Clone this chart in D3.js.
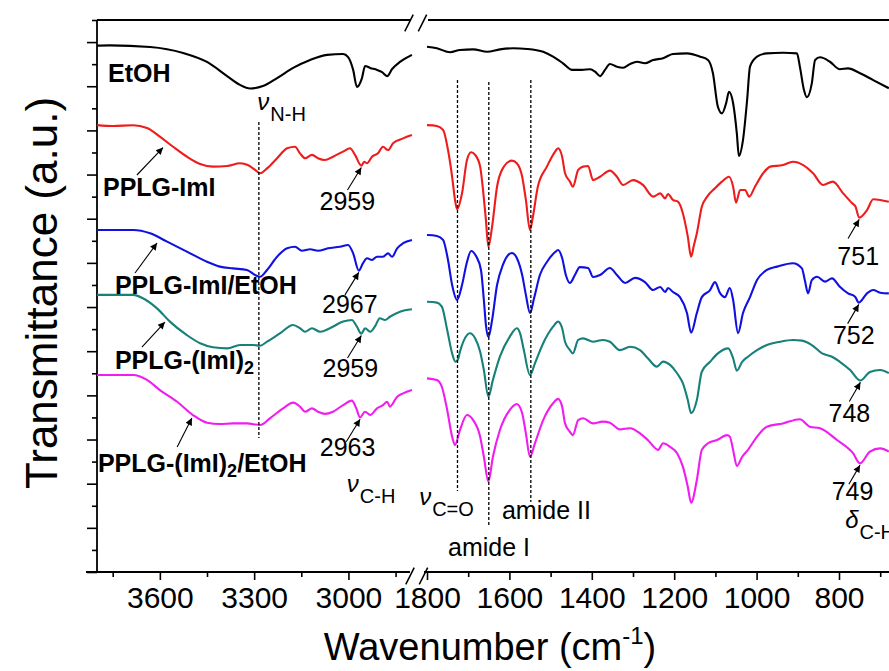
<!DOCTYPE html>
<html>
<head>
<meta charset="utf-8">
<script src="https://cdn.jsdelivr.net/npm/d3@7"></script>
<style>
  html, body { margin: 0; padding: 0; background: #fff; }
  svg { display: block; }
  text { font-family: Arial, "Liberation Sans", sans-serif; fill: #000; }
</style>
</head>
<body>
<svg id="chart" width="889" height="671"></svg>
<script>
// FTIR spectra, broken wavenumber axis (3800–2800 | 1800–650 cm-1).
// Each spectrum: [wavenumber, stacked transmittance (a.u.)]

const seriesNames = ["EtOH", "PPLG-ImI", "PPLG-ImI/EtOH", "PPLG-(ImI)2", "PPLG-(ImI)2/EtOH"];
const seriesColors = ["#000000", "#ee1c1c", "#1010e0", "#168079", "#f01cf0"];

const etoh = [
  [3800,23.84],[3759,23.85],[3631,23.78],[3526,23.51],[3450,23.10],[3386,22.46],[3345,22.06],[3313,21.90],
  [3272,22.01],[3227,22.37],[3176,22.83],[3122,23.19],[3068,23.42],[3017,23.46],[3001,23.32],[2985,22.74],
  [2973,21.97],[2957,22.37],[2947,22.92],[2931,22.83],[2909,22.74],[2893,22.64],[2877,22.46],[2861,22.78],
  [2836,23.10],[2798,23.42],
  [1800,23.79],[1776,23.72],[1744,23.54],[1720,23.64],[1688,23.67],[1654,23.56],[1623,23.67],[1591,23.72],
  [1557,23.69],[1518,23.56],[1494,23.34],[1470,23.04],[1448,22.74],[1424,22.74],[1404,22.77],[1392,22.66],
  [1380,22.46],[1368,22.74],[1356,23.01],[1339,22.88],[1324,22.84],[1307,23.01],[1290,23.11],[1271,23.04],
  [1251,23.19],[1227,23.27],[1203,23.46],[1169,23.49],[1137,23.34],[1118,23.19],[1106,22.59],[1094,21.07],
  [1084,20.77],[1074,21.23],[1067,21.75],[1057,21.23],[1048,19.87],[1043,18.84],[1033,19.57],[1023,21.38],
  [1016,22.89],[999,23.34],[975,23.49],[936,23.52],[902,23.49],[895,22.89],[885,21.83],[878,21.50],
  [866,22.13],[858,23.19],[846,23.31],[822,23.11],[798,22.77],[778,22.81],[749,22.59],[717,22.28],[679,21.91]
];

const pplgImI = [
  [3800,20.24],[3749,20.20],[3685,20.23],[3641,20.11],[3600,19.72],[3558,19.26],[3514,18.81],[3472,18.48],
  [3431,18.36],[3386,18.39],[3345,18.51],[3320,18.43],[3297,18.21],[3281,18.06],[3259,18.28],[3227,18.74],
  [3195,19.19],[3170,19.26],[3154,18.96],[3138,18.74],[3116,18.89],[3097,18.74],[3075,18.66],[3049,18.81],
  [3017,19.04],[2995,19.19],[2979,18.89],[2959,18.40],[2950,18.58],[2941,18.51],[2925,18.81],[2906,18.96],
  [2890,19.26],[2874,19.11],[2858,19.42],[2826,19.64],[2798,19.79],
  [1800,20.24],[1776,20.20],[1761,20.02],[1749,19.11],[1739,17.90],[1732,16.85],[1727,16.43],[1715,17.15],
  [1703,18.66],[1693,19.01],[1683,18.89],[1671,18.36],[1664,17.30],[1657,15.94],[1651,14.73],[1642,15.64],
  [1630,17.45],[1616,18.28],[1594,18.63],[1582,18.51],[1569,17.90],[1560,16.85],[1550,15.49],[1543,16.09],
  [1531,17.45],[1509,18.36],[1489,19.04],[1482,19.19],[1472,18.81],[1465,18.06],[1453,17.68],[1446,17.45],
  [1433,18.21],[1421,18.36],[1409,18.39],[1397,17.75],[1380,17.90],[1356,18.18],[1339,17.90],[1324,17.53],
  [1300,17.75],[1276,17.53],[1251,17.00],[1234,17.15],[1222,16.92],[1215,17.12],[1203,16.85],[1191,16.77],
  [1179,16.25],[1167,15.19],[1159,14.28],[1152,14.81],[1145,15.34],[1133,16.54],[1120,17.00],[1101,17.38],
  [1084,17.68],[1067,17.90],[1057,17.45],[1050,16.73],[1040,17.30],[1028,17.30],[1018,17.00],[1004,17.45],
  [984,18.06],[967,18.36],[936,18.43],[912,18.58],[887,18.43],[863,18.06],[839,17.53],[815,17.68],
  [790,17.15],[768,16.70],[760,16.55],[751,16.05],[732,16.39],[717,16.88],[700,16.85],[679,16.77]
];

const pplgImIEtOH = [
  [3800,15.49],[3685,15.49],[3631,15.34],[3577,14.96],[3514,14.51],[3450,14.05],[3409,13.83],[3367,13.75],
  [3323,13.68],[3297,13.45],[3281,13.37],[3259,13.68],[3227,14.28],[3195,14.66],[3170,14.73],[3148,14.55],
  [3122,14.62],[3097,14.55],[3065,14.66],[3027,14.73],[3001,14.81],[2985,14.43],[2967,13.65],[2954,13.98],
  [2941,14.21],[2925,14.13],[2909,14.28],[2890,14.28],[2874,14.43],[2861,14.28],[2845,14.66],[2826,14.89],
  [2798,15.04],
  [1800,15.26],[1776,15.22],[1761,15.04],[1749,14.13],[1739,13.00],[1727,12.32],[1715,13.00],[1703,14.04],
  [1693,14.54],[1681,14.31],[1669,13.68],[1662,12.32],[1657,11.19],[1651,10.64],[1642,11.41],[1630,13.00],
  [1616,13.90],[1594,14.45],[1582,14.22],[1569,13.45],[1560,12.55],[1550,11.73],[1540,12.41],[1526,13.45],
  [1509,14.04],[1489,14.49],[1482,14.58],[1472,14.22],[1463,13.45],[1453,13.09],[1441,13.45],[1429,13.81],
  [1409,13.77],[1397,13.36],[1380,13.45],[1356,13.77],[1339,13.45],[1319,13.09],[1295,13.32],[1271,13.13],
  [1251,12.77],[1234,12.91],[1222,12.68],[1215,12.86],[1203,12.68],[1186,12.45],[1169,11.73],[1159,10.84],
  [1145,11.73],[1133,12.45],[1113,12.77],[1101,13.13],[1089,12.64],[1077,12.45],[1065,12.86],[1057,12.32],
  [1045,10.82],[1033,11.73],[1016,12.45],[999,13.22],[975,13.68],[950,13.83],[912,13.98],[890,13.75],
  [883,13.22],[875,12.62],[866,13.22],[853,13.37],[834,13.15],[817,13.30],[798,12.92],[778,12.62],
  [761,12.47],[752,12.20],[732,12.62],[717,12.77],[700,12.65],[679,12.62]
];

const pplgImI2 = [
  [3800,12.55],[3685,12.55],[3654,12.40],[3609,11.94],[3568,11.34],[3514,10.73],[3472,10.36],[3431,10.18],
  [3386,10.13],[3345,10.28],[3304,10.28],[3281,10.25],[3259,10.43],[3218,10.81],[3176,11.19],[3154,11.04],
  [3138,10.88],[3116,11.04],[3090,10.88],[3059,11.04],[3017,11.34],[2989,11.41],[2973,11.11],[2959,10.79],
  [2947,11.04],[2931,10.88],[2916,11.11],[2900,11.49],[2884,11.41],[2868,11.56],[2836,11.79],[2798,11.90],
  [1800,12.24],[1776,12.20],[1764,12.02],[1751,10.96],[1739,9.90],[1731,9.52],[1725,9.62],[1720,9.98],
  [1703,10.73],[1696,10.81],[1683,10.58],[1671,9.98],[1662,9.15],[1651,7.94],[1640,8.70],[1623,9.75],
  [1599,10.66],[1582,11.04],[1574,10.81],[1565,10.05],[1550,8.92],[1538,9.45],[1518,10.36],[1494,11.11],
  [1482,11.34],[1472,11.04],[1465,10.43],[1453,10.05],[1446,9.90],[1433,10.51],[1421,10.58],[1397,10.43],
  [1373,10.51],[1356,10.43],[1332,10.05],[1307,10.20],[1283,10.05],[1264,9.68],[1242,9.30],[1227,9.53],
  [1210,9.38],[1193,9.00],[1179,8.55],[1167,7.79],[1159,7.19],[1145,7.79],[1133,9.07],[1113,9.52],
  [1094,9.90],[1069,10.13],[1057,9.68],[1048,9.12],[1035,9.52],[1021,9.75],[999,10.05],[975,10.28],
  [943,10.43],[912,10.51],[890,10.48],[866,10.28],[841,9.90],[817,9.75],[798,9.52],[773,9.15],
  [748,8.67],[725,9.06],[700,9.15],[679,9.01]
];

const pplgImI2EtOH = [
  [3800,8.92],[3685,8.92],[3641,8.70],[3600,8.24],[3545,7.71],[3495,7.11],[3450,6.76],[3409,6.70],
  [3367,6.73],[3323,6.73],[3281,6.66],[3250,6.96],[3208,7.41],[3176,7.67],[3154,7.49],[3138,7.26],
  [3116,7.41],[3097,7.26],[3075,7.16],[3049,7.26],[3017,7.56],[2989,7.76],[2975,7.41],[2963,7.00],
  [2947,7.26],[2931,7.11],[2909,7.41],[2890,7.56],[2877,7.71],[2868,7.49],[2845,7.94],[2826,8.09],
  [2798,8.24],
  [1800,8.77],[1776,8.70],[1764,8.39],[1751,7.34],[1739,6.13],[1732,5.75],[1720,6.43],[1703,7.11],
  [1688,6.88],[1671,6.13],[1662,5.22],[1651,4.09],[1640,5.22],[1623,6.43],[1599,7.34],[1582,7.61],
  [1569,7.19],[1560,6.28],[1550,5.22],[1538,5.83],[1518,6.88],[1494,7.64],[1482,7.84],[1472,7.49],
  [1465,6.73],[1453,6.35],[1446,6.20],[1433,6.88],[1421,6.96],[1397,6.73],[1373,6.81],[1356,6.76],
  [1332,6.46],[1307,6.51],[1283,6.28],[1264,5.98],[1239,5.53],[1227,5.83],[1210,5.67],[1193,5.38],
  [1179,4.77],[1167,3.86],[1159,3.14],[1145,4.17],[1133,5.53],[1118,5.83],[1096,5.98],[1072,6.20],
  [1065,6.13],[1057,5.53],[1048,4.80],[1035,5.22],[1021,5.53],[999,6.13],[975,6.58],[936,6.73],
  [895,6.92],[871,6.58],[846,6.51],[805,5.98],[766,5.38],[749,4.92],[725,5.45],[700,5.60],[679,5.45]
];

const spectra = [etoh, pplgImI, pplgImIEtOH, pplgImI2, pplgImI2EtOH];

// Axis ranges and ticks
const leftDomain = [3800, 2800];
const rightDomain = [1800, 650];
const yDomain = [0, 25];
const leftMajorTicks = [3600, 3300, 3000];
const leftMinorTicks = [3750, 3450, 3150, 2850];
const rightMajorTicks = [1800, 1600, 1400, 1200, 1000, 800];
const rightMinorTicks = [1700, 1500, 1300, 1100, 900, 700];
const yMajorTicks = d3.range(0, 25, 2);
const yMinorTicks = d3.range(1, 26, 2);

// Band assignment guides: [wavenumber, top value, bottom value]
const guideLines = [
  [3285, 20.38, 6.07],   // N-H stretch
  [1726, 22.28, 3.67],   // C=O stretch
  [1650, 22.19, 2.04],   // amide I
  [1548, 22.28, 3.17]    // amide II
];

// Peak call-outs: label, peak wavenumber, peak value
const peakNotes = [
  ["2959", 2959, 18.40], ["2967", 2967, 13.65], ["2959", 2959, 10.79], ["2963", 2963, 7.00],
  ["751", 751, 16.05], ["752", 752, 12.20], ["748", 748, 8.67], ["749", 749, 4.92]
];

const svg = d3.select("#chart");
const W = 889, H = 671;
const x0 = 97, yTop = 20, yBot = 572;

const xL = d3.scaleLinear().domain(leftDomain).range([x0, 411.3]);
const xR = d3.scaleLinear().domain(rightDomain).range([427, 900.8]);
const y = d3.scaleLinear().domain(yDomain).range([yBot, yTop]);
const xAny = w => (w >= 2000 ? xL(w) : xR(w));

// ---- axes ----
const axisG = svg.append("g");
function addAxis(scale, vals, size, labels) {
  const ax = d3.axisBottom(scale).tickValues(vals).tickSize(size).tickPadding(7)
    .tickFormat(labels ? d3.format("d") : "");
  const g = axisG.append("g").attr("transform", `translate(0,${yBot})`).call(ax);
  g.select(".domain").remove();
  g.selectAll("line").attr("stroke", "#000").attr("stroke-width", 1.6);
  g.selectAll("text").style("font-size", "30px").attr("fill", "#000");
}
addAxis(xL, leftMajorTicks, 8, true);
addAxis(xL, leftMinorTicks, 5, false);
addAxis(xR, rightMajorTicks, 8, true);
addAxis(xR, rightMinorTicks, 5, false);

function addYAxis(vals, size) {
  const g = axisG.append("g").attr("transform", `translate(${x0},0)`)
    .call(d3.axisLeft(y).tickValues(vals).tickSize(size).tickFormat(""));
  g.select(".domain").remove();
  g.selectAll("line").attr("stroke", "#000").attr("stroke-width", 1.6);
}
addYAxis(yMajorTicks, 10);
addYAxis(yMinorTicks, 5);

const frame = axisG.append("g").attr("stroke", "#000").attr("stroke-width", 1.8).attr("fill", "none");
frame.append("line").attr("x1", x0).attr("x2", x0).attr("y1", yTop).attr("y2", yBot);
frame.append("line").attr("x1", x0).attr("x2", 411).attr("y1", yTop).attr("y2", yTop);
frame.append("line").attr("x1", 428).attr("x2", W).attr("y1", yTop).attr("y2", yTop);
frame.append("line").attr("x1", 86).attr("x2", 410).attr("y1", yBot).attr("y2", yBot);
frame.append("line").attr("x1", 424).attr("x2", W).attr("y1", yBot).attr("y2", yBot);
// break marks
[[409, yTop + 3], [422.5, yTop + 3], [410, yBot + 4], [423.5, yBot + 4]].forEach(([cx, cy]) => {
  frame.append("line").attr("x1", cx - 4.2).attr("y1", cy + 8.3).attr("x2", cx + 4.2).attr("y2", cy - 8.3)
    .attr("stroke-width", 1.5);
});

// ---- spectra ----
const line = d3.line().x(d => d.px).y(d => y(d[1])).curve(d3.curveMonotoneX);
const specG = svg.append("g").attr("fill", "none").attr("stroke-width", 2.1).attr("stroke-linejoin", "round");
spectra.forEach((s, i) => {
  const left = s.filter(d => d[0] >= 2000).map(d => Object.assign([...d], { px: xL(d[0]) }));
  const right = s.filter(d => d[0] < 2000).map(d => Object.assign([...d], { px: xR(d[0]) }));
  [left, right].forEach(seg => {
    specG.append("path").datum(seg).attr("d", line).attr("stroke", seriesColors[i]);
  });
});

// ---- guide lines ----
const guideG = svg.append("g").attr("stroke", "#000").attr("stroke-width", 1.3).attr("stroke-dasharray", "3,2");
guideLines.forEach(([w, v1, v2]) => {
  guideG.append("line").attr("x1", xAny(w)).attr("x2", xAny(w)).attr("y1", y(v1)).attr("y2", y(v2));
});

// ---- arrows ----
svg.append("defs").append("marker").attr("id", "ah").attr("viewBox", "0 0 10 10")
  .attr("refX", 10).attr("refY", 5).attr("markerWidth", 10).attr("markerHeight", 7)
  .attr("markerUnits", "userSpaceOnUse").attr("orient", "auto")
  .append("path").attr("d", "M0,0 L10,5 L0,10 Z").attr("fill", "#000");

const arrowG = svg.append("g").attr("stroke", "#000").attr("stroke-width", 1.1);
function arrow(w1, v1, w2, v2) {
  arrowG.append("line").attr("x1", xAny(w1)).attr("y1", y(v1)).attr("x2", xAny(w2)).attr("y2", y(v2))
    .attr("marker-end", "url(#ah)");
}

// series-name arrows: tail near label, head on the curve
arrow(3673, 17.98, 3590, 19.22);
arrow(3679, 13.54, 3609, 14.90);
arrow(3657, 10.19, 3584, 11.32);
arrow(3545, 5.66, 3498, 6.97);

// peak arrows, pointing up at each labelled minimum; label placement [dx, dy] in px
const noteOffsets = [[-14, 44], [-9, 42], [-11, 43], [-12.5, 39], [-1, 47], [-5, 41], [-11, 41], [-7.5, 37]];
const textG = svg.append("g");
peakNotes.forEach(([lab, w, v], i) => {
  const left = w >= 2000;
  const tail = left ? [w + 44, v - 1.1] : [w + 27, v - 0.95];
  arrow(tail[0], tail[1], w, v - 0.08);
  const [dx, dy] = noteOffsets[i];
  textG.append("text").attr("x", xAny(w) + dx).attr("y", y(v) + dy).attr("text-anchor", "middle")
    .style("font-size", "25px").text(lab);
});

// ---- series names ----
function boldLabel(parts, w, v) {
  const t = textG.append("text").attr("x", xL(w)).attr("y", y(v))
    .style("font-size", "25px").style("font-weight", "bold");
  parts.forEach(p => {
    const ts = t.append("tspan").text(p.t);
    if (p.sub) ts.attr("baseline-shift", "-30%").style("font-size", "18px");
  });
}
boldLabel([{ t: "EtOH" }], 3765, 22.20);
boldLabel([{ t: "PPLG-ImI" }], 3781, 17.03);
boldLabel([{ t: "PPLG-ImI/EtOH" }], 3743, 12.59);
boldLabel([{ t: "PPLG-(ImI)" }, { t: "2", sub: true }], 3743, 9.19);
boldLabel([{ t: "PPLG-(ImI)" }, { t: "2", sub: true }, { t: "/EtOH" }], 3797, 4.53);

// ---- vibration mode labels ----
function modeLabel(sym, sub, px, py) {
  const t = textG.append("text").attr("x", px).attr("y", py);
  t.append("tspan").text(sym).style("font-size", "24px").style("font-style", "italic");
  t.append("tspan").text(sub).style("font-size", "20px").attr("dy", 11).attr("dx", 1);
}
modeLabel("\u03BD", "N-H", xL(3290), y(20.92));
modeLabel("\u03BD", "C-H", xL(3005), y(3.62));
modeLabel("\u03BD", "C=O", xR(1819), y(3.05));
modeLabel("\u03B4", "C-H", xR(785), y(1.98));

textG.append("text").attr("x", xR(1618)).attr("y", y(2.40)).style("font-size", "25px").text("amide II");
textG.append("text").attr("x", xR(1749)).attr("y", y(0.72)).style("font-size", "25px").text("amide I");

// ---- axis titles ----
const xt = svg.append("text").attr("x", 490).attr("y", 660).attr("text-anchor", "middle").style("font-size", "38px");
xt.append("tspan").text("Wavenumber (cm");
xt.append("tspan").text("-1").style("font-size", "24px").attr("dy", -16);
xt.append("tspan").text(")").attr("dy", 16);

svg.append("text").attr("transform", "translate(57,293) rotate(-90)").attr("text-anchor", "middle")
  .style("font-size", "44px").text("Transmittance (a.u.)");
</script>
</body>
</html>
